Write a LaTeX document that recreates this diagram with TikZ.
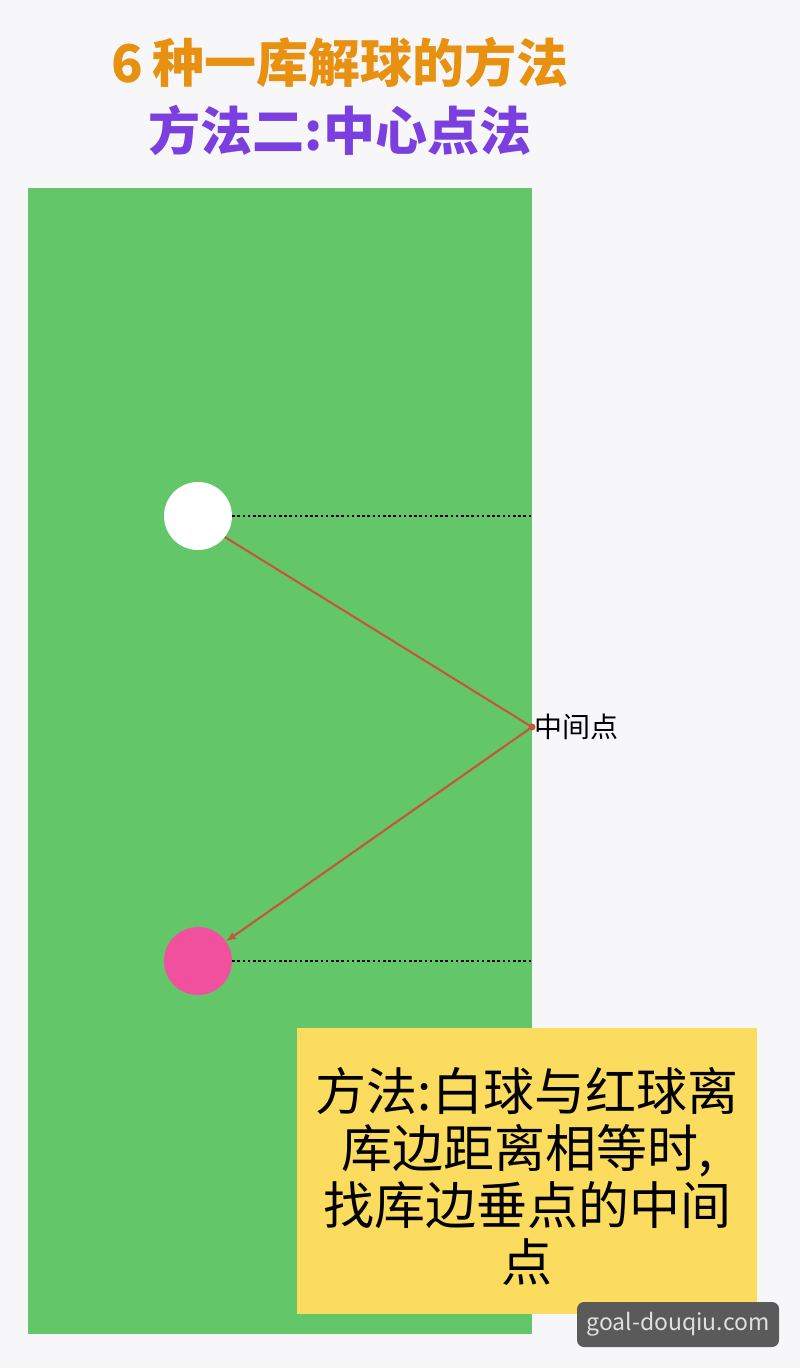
\documentclass[tikz,border=0pt]{standalone}
\usepackage{fontspec}
\setmainfont{Noto Sans CJK SC}
\usetikzlibrary{arrows.meta}
\definecolor{bgc}{HTML}{F7F7FA}
\definecolor{table}{HTML}{63C76A}
\definecolor{pinkball}{HTML}{F0509E}
\definecolor{cue}{HTML}{C8553A}
\definecolor{notec}{HTML}{FCDC5E}
\definecolor{titleorange}{HTML}{E8900F}
\definecolor{titlepurple}{HTML}{7B3FE0}
\definecolor{wmark}{HTML}{5A5A5A}
\begin{document}
\begin{tikzpicture}[x=1pt,y=-1pt,
  ball/.style={circle,minimum size=68pt,inner sep=0pt},
  aimline/.style={draw=cue,line width=2.1pt},
  perpline/.style={draw=black,line width=2.6pt,dash pattern=on 2.6pt off 2.6pt},
  titletext/.style={font=\fontsize{52}{58}\selectfont\bfseries, inner sep=0pt}]
\useasboundingbox (0,0) rectangle (800,1368);
\fill[bgc] (0,0) rectangle (800,1368);
% titles
\node[titletext,text=titleorange] (t1) at (340,62) {6\,种一库解球的方法};
\node[titletext,text=titlepurple] (t2) at (340,130) {方法二:中心点法};
% table
\fill[table] (28,188) rectangle (532,1334);
\node[ball,fill=white] (white) at (198,516) {};
\node[ball,fill=pinkball] (red) at (198,961) {};
\coordinate (wr) at (532,516);
\coordinate (rr) at (532,961);
\coordinate (mid) at (532,727);
\draw[perpline] (white.east) -- (wr);
\draw[perpline] (red.east) -- (rr);
\draw[aimline] (white.-38) -- (mid);
\draw[aimline,-{Latex[length=10pt,width=8pt]}] (mid) -- (red.35);
\fill[cue] (mid) circle (3.5pt);
\node[anchor=west,inner sep=0pt,font=\fontsize{28}{30}\selectfont] (midlabel) at (534,727) {中间点};
% note
\fill[notec] (297,1028) rectangle (757,1314);
\node[align=center,inner sep=0pt,font=\fontsize{51}{57}\selectfont] (note) at (527,1176)
 {方法:白球与红球离\\库边距离相等时,\\找库边垂点的中间\\点};
% watermark
\node[fill=wmark,rounded corners=7pt,minimum width=202pt,minimum height=45pt,inner sep=0pt,text=white!88!black,font=\fontsize{23}{26}\selectfont] (wm) at (678,1324.5) {goal-douqiu.com};
\end{tikzpicture}
\end{document}
